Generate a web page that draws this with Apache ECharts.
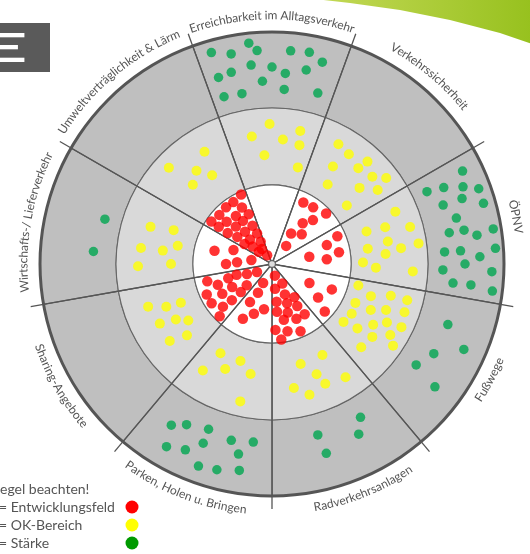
<!DOCTYPE html>
<html><head><meta charset="utf-8">
<script src="https://cdn.jsdelivr.net/npm/echarts@6/dist/echarts.min.js"></script>
<style>html,body{margin:0;padding:0;background:#fff;}#c{width:530px;height:554px;}</style>
</head><body><div id="c"></div>
<script>
// ---- categories (clockwise from top) ----
const sectorNames = ['Erreichbarkeit im Alltagsverkehr','Verkehrssicherheit','ÖPNV','Fußwege','Radverkehrsanlagen','Parken, Holen u. Bringen','Sharing-Angebote','Wirtschafts-/ Lieferverkehr','Umweltverträglichkeit & Lärm'];
const labelAngles = [0,40,79,118,158,201,240,280,320];
const labelClockwise = [true,true,true,false,false,false,false,true,true];
const dividerAngles = [-20,20,60,100,140,180,220,260,300];
const ringBounds = [79,156,232];
const legendTitle = 'egel beachten!';
const legendLabels = ['= Entwicklungsfeld','= OK-Bereich','= Stärke'];

// ---- dots as [radius, angle(deg clockwise from top)] ----
const redDots = [
 // Umweltverträglichkeit & Lärm
 [76,336],[73,328],[64,332],[73,321],[72,313],[60,323],[55,335],[74,305],[62,313],[52,326],[65,305],[52,316],[43,333],[54,305],[42,320],[34,334],[44,308],[33,318],[25,333],[34,306],[26,312],[18,326],[18,313],[10,331],
 // Wirtschafts-/ Lieferverkehr
 [59,283],[41,290],[46,270],[35,273],[21,281],
 // Sharing-Angebote
 [67,255],[58,249],[46,252],[37,253],[27,248],[17,242],[72,245],[58,239],[46,240],[42,228],[33,230],[72,237],[65,229],[54,228],[74,225],
 // Parken, Holen u. Bringen
 [21,205],[32,206],[44,210],[46,190],[53,200],[62,208],
 // Radverkehrsanlagen
 [12,166],[22,152],[25,173],[33,157],[40,146],[38,173],[42,159],[49,149],[60,147],[48,174],[51,162],[57,168],[60,156],[66,177],[69,167],[73,157],[76,173],
 // Fußwege
 [42,117],[57,126],[65,113],[71,132],
 // ÖPNV
 [71,67],[58,71],[68,80],[38,79],[55,85],
 // Verkehrssicherheit
 [69,27],[70,36],[74,47],[60,43],[51,37],[36,32],[42,45],[23,38]
];
const yellowDots = [
 // Erreichbarkeit
 [140,-1],[129,-9],[136,12],[125,5],[122,13],[109,-4],[100,15],
 // Verkehrssicherheit
 [137,29],[134,35],[140,43],[115,32],[129,42],[133,49],[143,53],[97,35],[116,49],[129,55],[95,52],
 // ÖPNV
 [134,67],[100,71],[119,72],[143,75],[118,79],[148,82],[97,81],[114,85],[130,83],[91,89],[104,92],[141,93],
 // Fußwege
 [89,104],[104,108],[123,105],[140,105],[92,115],[109,115],[123,112],[141,110],[94,122],[92,129],[107,127],[118,121],[129,117],[144,116],[124,126],[138,121],[122,133],[146,124],
 // Radverkehrsanlagen
 [104,151],[104,164],[119,158],[135,147],[131,156],[126,170],[136,164],
 // Parken
 [103,210],[102,198],[127,213],[115,204],[112,191],[141,193],
 // Sharing
 [131,251],[114,248],[99,247],[127,242],[111,240],[101,236],[128,233],[111,230],
 // Wirtschafts
 [127,287],[104,289],[132,277],[110,277],[96,281],[134,269],[101,270],
 // Umwelt
 [131,329],[141,313],[120,321],[107,326],[112,315]
];
const greenDots = [
 // Erreichbarkeit
 [220,-16],[214,-11],[222,-6],[214,-4],[200,-6],[196,-12],[194,-16],[183,-3],[174,-16],[173,-10],[214,5],[215,10],[208,14],[197,0],[191,4],[197,10],[175,4],[177,15],
 // ÖPNV
 [212,64],[171,65],[188,66],[206,68],[220,70],[181,71],[201,71],[220,74],[190,76],[180,80],[195,80],[207,82],[224,81],[173,86],[189,86],[208,88],[224,86],[193,90],[171,92],[220,92],[182,96],[200,96],[222,97],
 // Fußwege
 [186,109],[185,119],[210,114],[176,125],[204,127],
 // Radverkehrsanlagen
 [177,150],[177,165],[191,153],[197,164],
 // Parken
 [190,212],[182,208],[177,201],[211,210],[205,205],[192,201],[181,193],[179,186],[193,190],[215,200],[213,195],[209,189],
 // Wirtschafts
 [173,285],[179,274]
];

const CX = 272, CY = 264;
const FONT_FAMILY = 'Lato';
const LABEL_SIZE = 12;
const mctx = document.createElement('canvas').getContext('2d');
mctx.font = LABEL_SIZE + 'px ' + FONT_FAMILY;

const chart = echarts.init(document.getElementById('c'), null, {renderer:'canvas'});

function ringPie(r0, r1, color, border, bw, z) {
  return {
    type:'pie', silent:true, z:z, center:[CX,CY], radius:[r0,r1], startAngle:110, clockwise:true,
    label:{show:false}, labelLine:{show:false}, emphasis:{disabled:true},
    itemStyle:{color:color, borderColor:border, borderWidth:bw},
    data: sectorNames.map(n => ({name:n, value:1}))
  };
}

const option = {
  animation:false,
  polar:{center:[CX,CY], radius:260},
  angleAxis:{type:'value', min:-20, max:340, startAngle:110, clockwise:true,
    axisLine:{show:false}, axisTick:{show:false}, axisLabel:{show:false}, splitLine:{show:false}},
  radiusAxis:{type:'value', min:0, max:260,
    axisLine:{show:false}, axisTick:{show:false}, axisLabel:{show:false}, splitLine:{show:false}},
  series:[
    ringPie(ringBounds[1], ringBounds[2], '#bfbfbf', '#666666', 1.1, 1),
    ringPie(ringBounds[0], ringBounds[1], '#d9d9d9', '#666666', 1.1, 1),
    ringPie(0, ringBounds[0], '#ffffff', '#666666', 1.1, 1),
    {
      type:'pie', silent:true, z:1, center:[CX,CY], radius:[ringBounds[2]-1.5, ringBounds[2]+1.5],
      label:{show:false}, labelLine:{show:false}, emphasis:{disabled:true},
      itemStyle:{color:'#555555'}, data:[{name:'rand', value:1}]
    },
    {
      type:'custom', coordinateSystem:'polar', silent:true, z:3,
      data: dividerAngles.map(a => [245, a]),
      renderItem(params, api){
        const a = api.value(1);
        const p0 = api.coord([0, a]);
        const p1 = api.coord([api.value(0), a]);
        return {type:'line', shape:{x1:p0[0], y1:p0[1], x2:p1[0], y2:p1[1]},
          style:{stroke:'#555555', lineWidth:1.3}};
      }
    },
    {type:'scatter', coordinateSystem:'polar', silent:true, z:4, symbolSize:10.5,
      itemStyle:{color:'#ff0000'}, data:redDots},
    {type:'scatter', coordinateSystem:'polar', silent:true, z:4, symbolSize:10,
      itemStyle:{color:'#ffff00'}, data:yellowDots},
    {type:'scatter', coordinateSystem:'polar', silent:true, z:4, symbolSize:9.5,
      itemStyle:{color:'#00a650'}, data:greenDots},
    {type:'scatter', coordinateSystem:'polar', silent:true, z:5, symbolSize:7,
      itemStyle:{color:'#ffffff', borderColor:'#555555', borderWidth:1.5}, data:[[0,0]]},
    {
      type:'custom', coordinateSystem:'polar', silent:true, z:6,
      data: labelAngles.map(a => [248, a]),
      renderItem(params, api){
        const i = params.dataIndex;
        const text = sectorNames[i];
        const cw = labelClockwise[i];
        const R = cw ? 248.5 : 247;
        const center = api.value(1);
        const chars = Array.from(text);
        const total = mctx.measureText(text).width;
        const totalDeg = total / R * 180 / Math.PI;
        const children = [];
        let prefix = '';
        chars.forEach(ch => {
          const w0 = mctx.measureText(prefix).width;
          const w1 = mctx.measureText(prefix + ch).width;
          prefix += ch;
          const mid = (w0 + w1) / 2;
          const off = (mid / R) * 180 / Math.PI - totalDeg / 2;
          const ang = cw ? center + off : center - off;
          const p = api.coord([R, ang]);
          const rot = cw ? -ang * Math.PI / 180 : (180 - ang) * Math.PI / 180;
          children.push({type:'text', x:p[0], y:p[1], rotation:rot,
            style:{text:ch, fill:'#555555', fontSize:LABEL_SIZE, fontFamily:FONT_FAMILY,
              align:'center', verticalAlign:'middle', textAlign:'center', textVerticalAlign:'middle'}});
        });
        return {type:'group', children};
      }
    }
  ],
  graphic:[
    {type:'polygon', silent:true, z:0,
      shape:{points:[[306,-2],[532,-2],[532,44],[500,33],[450,20],[400,10],[350,3]]},
      style:{fill:{type:'linear', x:0, y:0, x2:1, y2:0,
        colorStops:[{offset:0, color:'#c6da5a'},{offset:1, color:'#97c11e'}]}}},
    {type:'rect', silent:true, shape:{x:0, y:23, width:50, height:49}, style:{fill:'#5a5a5a'}},
    {type:'text', silent:true, x:28, y:49, scaleX:2.3,
      style:{text:'E', fill:'#ffffff', fontSize:41, fontWeight:'bold', fontFamily:FONT_FAMILY,
        align:'right', verticalAlign:'middle', textAlign:'right', textVerticalAlign:'middle'}},
    {type:'text', silent:true, x:0, y:489,
      style:{text:legendTitle, fill:'#555555', fontSize:14, fontFamily:FONT_FAMILY, align:'left', verticalAlign:'middle', textAlign:'left', textVerticalAlign:'middle'}},
    ...legendLabels.map((t, k) => ({type:'text', silent:true, x:-1, y:507 + k*18,
      style:{text:t, fill:'#555555', fontSize:14, fontFamily:FONT_FAMILY, align:'left', verticalAlign:'middle', textAlign:'left', textVerticalAlign:'middle'}})),
    ...['#ff0000','#ffff00','#009a00'].map((c, k) => ({type:'circle', silent:true,
      shape:{cx:132, cy:507 + k*18, r:6.5}, style:{fill:c}}))
  ]
};
chart.setOption(option);
</script>
</body></html>
